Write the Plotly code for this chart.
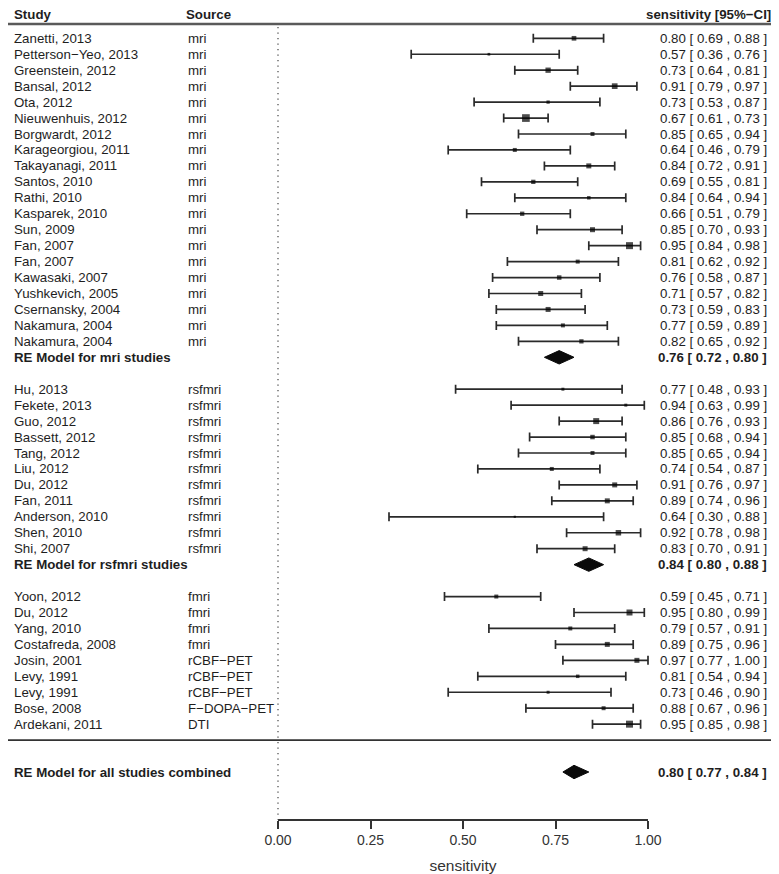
import plotly.graph_objects as go

# ---------------- data ----------------
studies = [
    "Zanetti, 2013", "Petterson−Yeo, 2013", "Greenstein, 2012", "Bansal, 2012", "Ota, 2012",
    "Nieuwenhuis, 2012", "Borgwardt, 2012", "Karageorgiou, 2011", "Takayanagi, 2011", "Santos, 2010",
    "Rathi, 2010", "Kasparek, 2010", "Sun, 2009", "Fan, 2007", "Fan, 2007",
    "Kawasaki, 2007", "Yushkevich, 2005", "Csernansky, 2004", "Nakamura, 2004", "Nakamura, 2004",
    "Hu, 2013", "Fekete, 2013", "Guo, 2012", "Bassett, 2012", "Tang, 2012",
    "Liu, 2012", "Du, 2012", "Fan, 2011", "Anderson, 2010", "Shen, 2010", "Shi, 2007",
    "Yoon, 2012", "Du, 2012", "Yang, 2010", "Costafreda, 2008", "Josin, 2001",
    "Levy, 1991", "Levy, 1991", "Bose, 2008", "Ardekani, 2011",
]
sources = ["mri"] * 20 + ["rsfmri"] * 11 + [
    "fmri", "fmri", "fmri", "fmri", "rCBF−PET", "rCBF−PET", "rCBF−PET", "F−DOPA−PET", "DTI"]
est = [0.80, 0.57, 0.73, 0.91, 0.73, 0.67, 0.85, 0.64, 0.84, 0.69,
       0.84, 0.66, 0.85, 0.95, 0.81, 0.76, 0.71, 0.73, 0.77, 0.82,
       0.77, 0.94, 0.86, 0.85, 0.85, 0.74, 0.91, 0.89, 0.64, 0.92, 0.83,
       0.59, 0.95, 0.79, 0.89, 0.97, 0.81, 0.73, 0.88, 0.95]
ci_lo = [0.69, 0.36, 0.64, 0.79, 0.53, 0.61, 0.65, 0.46, 0.72, 0.55,
         0.64, 0.51, 0.70, 0.84, 0.62, 0.58, 0.57, 0.59, 0.59, 0.65,
         0.48, 0.63, 0.76, 0.68, 0.65, 0.54, 0.76, 0.74, 0.30, 0.78, 0.70,
         0.45, 0.80, 0.57, 0.75, 0.77, 0.54, 0.46, 0.67, 0.85]
ci_hi = [0.88, 0.76, 0.81, 0.97, 0.87, 0.73, 0.94, 0.79, 0.91, 0.81,
         0.94, 0.79, 0.93, 0.98, 0.92, 0.87, 0.82, 0.83, 0.89, 0.92,
         0.93, 0.99, 0.93, 0.94, 0.94, 0.87, 0.97, 0.96, 0.88, 0.98, 0.91,
         0.71, 0.99, 0.91, 0.96, 1.00, 0.94, 0.90, 0.96, 0.98]
# relative study weights (drive square size)
weights = [4.7, 2.7, 5.3, 5.7, 3.3, 7.7, 4.0, 4.0, 5.0, 4.3,
           3.5, 4.3, 5.0, 7.0, 4.0, 4.5, 5.0, 5.0, 4.0, 4.3,
           3.0, 3.0, 6.0, 4.5, 4.0, 4.0, 5.0, 5.0, 2.2, 5.5, 5.0,
           4.0, 6.0, 4.0, 5.0, 5.0, 3.5, 3.0, 4.0, 7.0]

subgroup_labels = ["RE Model for mri studies", "RE Model for rsfmri studies"]
subgroup_est = [0.76, 0.84]
subgroup_lo = [0.72, 0.80]
subgroup_hi = [0.80, 0.88]

overall_label = "RE Model for all studies combined"
overall_est = [0.80]
overall_lo = [0.77]
overall_hi = [0.84]

x_ticks = [0.0, 0.25, 0.50, 0.75, 1.00]
x_tick_labels = ["0.00", "0.25", "0.50", "0.75", "1.00"]

# ---------------- layout of rows ----------------
def group_of(s):
    return 0 if s == "mri" else (1 if s == "rsfmri" else 2)

rows, summary_rows = [], []
r, prev = 0, 0
for s in sources:
    g = group_of(s)
    if g != prev:
        summary_rows.append(r)
        r += 2
        prev = g
    rows.append(r)
    r += 1
sep_row = r
overall_row = r + 2
axis_row = overall_row + 3

# page geometry (page body has an 8px margin)
OFF = 8
FW, FH = 779 - 2 * OFF, 874 - OFF
ROW0, ROWH = 38.3 - OFF, 15.95
X0PX, XUNIT = 278.0 - OFF, 370.0


def px(x):
    return (x - OFF) / FW


def py_row(y):
    return (y - 38.3) / ROWH


FONT = "Liberation Sans, Arial, Helvetica, sans-serif"
FS = 13.3
TXT = "#1e1e1e"

fmt = lambda e, l, h: f"{e:.2f} [ {l:.2f} , {h:.2f} ]"

fig = go.Figure()

# study squares with CI whiskers
fig.add_trace(go.Scatter(
    x=est, y=rows, mode="markers",
    marker=dict(symbol="square", size=weights, color="#000000", line=dict(width=0)),
    error_x=dict(type="data", symmetric=False,
                 array=[h - e for e, h in zip(est, ci_hi)],
                 arrayminus=[e - l for e, l in zip(est, ci_lo)],
                 color="#2a2a2a", thickness=1.7, width=4.5),
    hoverinfo="skip", showlegend=False, cliponaxis=False,
))

# diamonds
dh = 0.42
dx, dy = [], []
for e, l, h, rr in zip(subgroup_est + overall_est, subgroup_lo + overall_lo,
                       subgroup_hi + overall_hi, summary_rows + [overall_row]):
    dx += [l, e, h, e, l, None]
    dy += [rr, rr - dh, rr, rr + dh, rr, None]
fig.add_trace(go.Scatter(x=dx, y=dy, mode="lines", fill="toself",
                         fillcolor="#0a0a0a", line=dict(color="#0a0a0a", width=1),
                         hoverinfo="skip", showlegend=False))

# dummy trace for the visible sensitivity axis
fig.add_trace(go.Scatter(x=[x_ticks[0], x_ticks[-1]], y=[axis_row, axis_row],
                         xaxis="x2", yaxis="y", mode="markers",
                         marker=dict(opacity=0), hoverinfo="skip", showlegend=False))

ann = []
def add_text(x, y, text, anchor="left", bold=False):
    ann.append(dict(x=x, y=y, xref="paper", yref="y", text=f"<b>{text}</b>" if bold else text,
                    showarrow=False, xanchor=anchor, yanchor="middle",
                    font=dict(family=FONT, size=FS, color=TXT)))

head_row = py_row(14.5)
add_text(px(12), head_row, "Study", bold=True)
add_text(px(184), head_row, "Source", bold=True)
add_text(px(773), head_row, "sensitivity [95%−CI]", anchor="right", bold=True)

for s, src, e, l, h, rr in zip(studies, sources, est, ci_lo, ci_hi, rows):
    add_text(px(12), rr, s)
    add_text(px(186), rr, src)
    add_text(px(769), rr, fmt(e, l, h), anchor="right")

for lab, e, l, h, rr in zip(subgroup_labels, subgroup_est, subgroup_lo, subgroup_hi, summary_rows):
    add_text(px(12), rr, lab, bold=True)
    add_text(px(769), rr, fmt(e, l, h), anchor="right", bold=True)

add_text(px(12), overall_row, overall_label, bold=True)
add_text(px(769), overall_row, fmt(overall_est[0], overall_lo[0], overall_hi[0]), anchor="right", bold=True)

shapes = [
    dict(type="line", xref="paper", yref="y", x0=-0.02, x1=1.02, y0=py_row(24), y1=py_row(24),
         line=dict(color="#5a5a5a", width=2.6)),
    dict(type="line", xref="paper", yref="y", x0=-0.02, x1=1.02, y0=sep_row, y1=sep_row,
         line=dict(color="#333333", width=1.7)),
    dict(type="line", xref="x", yref="y", x0=0, x1=0, y0=py_row(27), y1=axis_row,
         line=dict(color="#444444", width=1.2, dash="1.2px,4.3px")),
]

fig.update_layout(
    template="none",
    width=FW, height=FH,
    margin=dict(l=0, r=0, t=0, b=0, pad=0, autoexpand=False),
    paper_bgcolor="rgba(0,0,0,0)", plot_bgcolor="rgba(0,0,0,0)",
    showlegend=False,
    annotations=ann, shapes=shapes,
    xaxis=dict(domain=[0, 1], range=[-X0PX / XUNIT, (FW - X0PX) / XUNIT], visible=False,
               automargin=False, fixedrange=True),
    yaxis=dict(domain=[0, 1], range=[(FH - ROW0) / ROWH, -ROW0 / ROWH], visible=False,
               automargin=False, fixedrange=True),
    xaxis2=dict(domain=[X0PX / FW, (X0PX + XUNIT) / FW], range=[0, 1], anchor="free",
                position=1 - (ROW0 + ROWH * axis_row) / FH, automargin=False,
                showline=True, linecolor="#333333", linewidth=1.6,
                ticks="outside", ticklen=8, tickwidth=1.6, tickcolor="#333333",
                tickvals=x_ticks, ticktext=x_tick_labels,
                tickfont=dict(family=FONT, size=14, color="#333333"),
                title=dict(text="sensitivity", font=dict(family=FONT, size=15.5, color="#333333"),
                           standoff=12),
                showgrid=False, zeroline=False, fixedrange=True),
    font=dict(family=FONT, size=FS, color=TXT),
)

fig.write_html("out.html")
